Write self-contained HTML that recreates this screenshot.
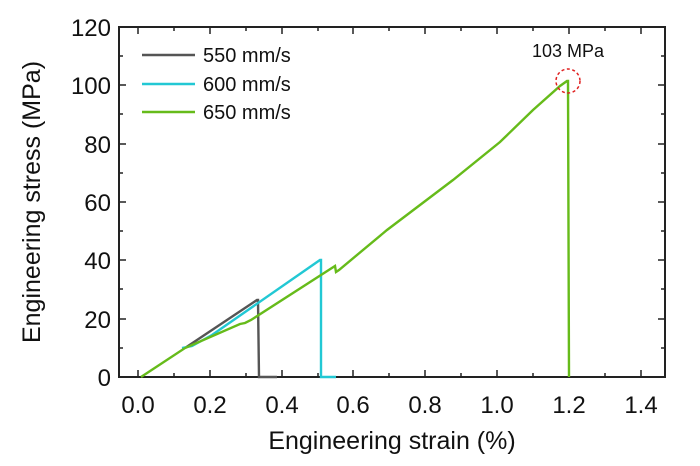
<!DOCTYPE html><html><head><style>body{margin:0;background:#fff}svg{font-family:"Liberation Sans",Arial,sans-serif}</style></head><body>
<svg width="700" height="461" viewBox="0 0 700 461">
<g stroke="#222" stroke-width="1.5">
<path d="M138 377v-7M210 377v-7M282 377v-7M353 377v-7M425 377v-7M497 377v-7M569 377v-7M641 377v-7M174 377v-4M246 377v-4M318 377v-4M389 377v-4M461 377v-4M533 377v-4M605 377v-4"/>
<path d="M138 27v7M210 27v7M282 27v7M353 27v7M425 27v7M497 27v7M569 27v7M641 27v7M174 27v4M246 27v4M318 27v4M389 27v4M461 27v4M533 27v4M605 27v4"/>
<path d="M119 377h7M119 319h7M119 260h7M119 202h7M119 144h7M119 85h7M119 348h4M119 289h4M119 231h4M119 173h4M119 114h4M119 56h4"/>
<path d="M665 377h-7M665 319h-7M665 260h-7M665 202h-7M665 144h-7M665 85h-7M665 348h-4M665 289h-4M665 231h-4M665 173h-4M665 114h-4M665 56h-4"/>
</g>
<rect x="119" y="27" width="546" height="350" fill="none" stroke="#222" stroke-width="2"/>
<g font-size="24" fill="#111" text-anchor="middle">
<text x="138" y="413">0.0</text><text x="210" y="413">0.2</text><text x="282" y="413">0.4</text><text x="353" y="413">0.6</text><text x="425" y="413">0.8</text><text x="497" y="413">1.0</text><text x="569" y="413">1.2</text><text x="641" y="413">1.4</text>
</g>
<g font-size="24" fill="#111" text-anchor="end">
<text x="111" y="386">0</text><text x="111" y="328">20</text><text x="111" y="269">40</text><text x="111" y="211">60</text><text x="111" y="153">80</text><text x="111" y="94">100</text><text x="111" y="36">120</text>
</g>
<text x="392" y="449" font-size="25" text-anchor="middle" fill="#111">Engineering strain (%)</text>
<text transform="translate(40,202) rotate(-90)" font-size="25" text-anchor="middle" fill="#111">Engineering stress (MPa)</text>
<g fill="none" stroke-width="2.4">
<polyline stroke="#555" points="185,348 257,300 258,300 259,377 268,377 277,377"/>
<polyline stroke="#22c8d4" points="182,348 192,346 212,335 320,260 321,260 321,377 336,377"/>
<polyline stroke="#66bb1a" points="141,377 185,348 240,324 245,323 251,320 335,266 336,272 339,270 387,230 453,180 500,142 533,110 560,86 567,81 568,81 569,377"/>
</g>
<circle cx="568" cy="81" r="12" fill="none" stroke="#e02020" stroke-width="1.5" stroke-dasharray="3,2.5"/>
<text x="568" y="57" font-size="18" text-anchor="middle" fill="#111">103 MPa</text>
<g stroke-width="2.5"><path d="M142 55h53" stroke="#555"/><path d="M142 84h53" stroke="#22c8d4"/><path d="M142 112h53" stroke="#66bb1a"/></g>
<g font-size="20" fill="#111"><text x="203" y="62">550 mm/s</text><text x="203" y="91">600 mm/s</text><text x="203" y="119">650 mm/s</text></g>
</svg></body></html>
